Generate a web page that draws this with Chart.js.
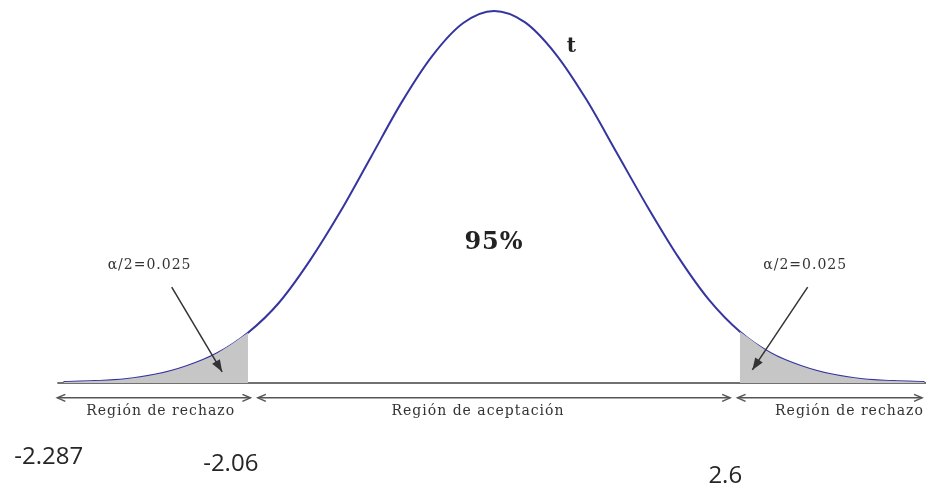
<!DOCTYPE html>
<html>
<head>
<meta charset="utf-8">
<script src="https://cdn.jsdelivr.net/npm/chart.js@4"></script>
<style>
  body { margin: 0; background: #fff; }
  #wrap { width: 926px; height: 490px; position: relative; }
</style>
</head>
<body>
<div id="wrap"><canvas id="myChart"></canvas></div>
<script>
// t values and curve height
const tValues = [-3.5, -3.25, -3, -2.75, -2.5, -2.25, -2, -1.75, -1.5, -1.25, -1, -0.75, -0.5, -0.25, 0,
                 0.25, 0.5, 0.75, 1, 1.25, 1.5, 1.75, 2, 2.25, 2.5, 2.75, 3, 3.25, 3.5];
const density = [0.001, 0.002, 0.004, 0.009, 0.018, 0.032, 0.054, 0.086, 0.131, 0.184, 0.243, 0.302, 0.352, 0.387, 0.4,
                 0.388, 0.354, 0.305, 0.247, 0.189, 0.135, 0.089, 0.055, 0.032, 0.018, 0.009, 0.004, 0.002, 0.001];
const criticalLeft = -2.0;
const criticalRight = 2.0;

const regionLabels = ['Región de rechazo', 'Región de aceptación', 'Región de rechazo'];
const alphaLabels = ['α/2=0.025', 'α/2=0.025'];
const centerLabel = '95%';
const curveLabel = 't';
const bottomLabels = ['-2.287', '-2.06', '2.6'];

// where the annotations sit, in t units (x) and density units (y)
const regionSpans = [[-3.55, -1.98], [-1.92, 1.92], [1.98, 3.48]];
const regionTextX = [-2.71, -0.13, 2.89];
const alphaTextX = [-2.80, 2.53];
const alphaArrows = [[-2.62, 0.103, -2.21, 0.012], [2.55, 0.103, 2.10, 0.014]];
const bottomLabelPos = [[-3.62, -0.080], [-2.14, -0.087], [1.88, -0.100]];

function pts(lo, hi) {
  const out = [];
  tValues.forEach((t, i) => {
    if (t >= lo && t <= hi) out.push({x: t, y: density[i]});
  });
  return out;
}

function arrowHead(ctx, x1, y1, x2, y2, len, wid, filled) {
  const a = Math.atan2(y2 - y1, x2 - x1);
  ctx.beginPath();
  ctx.moveTo(x2 - len * Math.cos(a) + wid * Math.sin(a), y2 - len * Math.sin(a) - wid * Math.cos(a));
  ctx.lineTo(x2, y2);
  ctx.lineTo(x2 - len * Math.cos(a) - wid * Math.sin(a), y2 - len * Math.sin(a) + wid * Math.cos(a));
  if (filled) { ctx.closePath(); ctx.fill(); } else ctx.stroke();
}

const decor = {
  id: 'decor',
  beforeDatasetsDraw(chart) {
    const {ctx, scales: {x, y}} = chart;
    ctx.save();
    ctx.strokeStyle = '#707070';
    ctx.lineWidth = 2;
    ctx.beginPath();
    ctx.moveTo(x.getPixelForValue(-3.55), y.getPixelForValue(0));
    ctx.lineTo(x.getPixelForValue(3.52), y.getPixelForValue(0));
    ctx.stroke();
    ctx.restore();
  },
  afterDatasetsDraw(chart) {
    const {ctx, scales: {x, y}} = chart;
    ctx.save();
    // region arrows
    const ay = y.getPixelForValue(-0.016);
    ctx.strokeStyle = '#555';
    ctx.lineWidth = 1.5;
    regionSpans.forEach(([a, b]) => {
      const xa = x.getPixelForValue(a), xb = x.getPixelForValue(b);
      ctx.beginPath();
      ctx.moveTo(xa, ay);
      ctx.lineTo(xb, ay);
      ctx.stroke();
      arrowHead(ctx, xb, ay, xa, ay, 8, 3.5, false);
      arrowHead(ctx, xa, ay, xb, ay, 8, 3.5, false);
    });
    ctx.fillStyle = '#333';
    ctx.textAlign = 'center';
    ctx.textBaseline = 'middle';
    ctx.font = '14px "DejaVu Serif"';
    ctx.letterSpacing = '1px';
    regionLabels.forEach((txt, i) => {
      ctx.fillText(txt, x.getPixelForValue(regionTextX[i]), y.getPixelForValue(-0.030));
    });
    alphaLabels.forEach((txt, i) => {
      ctx.fillText(txt, x.getPixelForValue(alphaTextX[i]), y.getPixelForValue(0.126));
    });
    ctx.letterSpacing = '0px';
    // alpha arrows
    ctx.strokeStyle = '#333';
    ctx.fillStyle = '#333';
    ctx.lineWidth = 1.5;
    alphaArrows.forEach(([t1, d1, t2, d2]) => {
      const x1 = x.getPixelForValue(t1), y1 = y.getPixelForValue(d1);
      const x2 = x.getPixelForValue(t2), y2 = y.getPixelForValue(d2);
      ctx.beginPath();
      ctx.moveTo(x1, y1);
      ctx.lineTo(x2, y2);
      ctx.stroke();
      arrowHead(ctx, x1, y1, x2, y2, 12, 4.5, true);
    });
    // center and curve labels
    ctx.fillStyle = '#222';
    ctx.font = 'bold 24px "DejaVu Serif"';
    ctx.letterSpacing = '1px';
    ctx.fillText(centerLabel, x.getPixelForValue(0), y.getPixelForValue(0.151));
    ctx.letterSpacing = '0px';
    ctx.font = 'bold 20px "DejaVu Serif"';
    ctx.fillText(curveLabel, x.getPixelForValue(0.63), y.getPixelForValue(0.361));
    // bottom numbers
    ctx.font = '24px "Open Sans"';
    ctx.fillStyle = '#262626';
    bottomLabels.forEach((txt, i) => {
      const [t, d] = bottomLabelPos[i];
      ctx.fillText(txt, x.getPixelForValue(t), y.getPixelForValue(d));
    });
    ctx.restore();
  }
};

const ctx = document.getElementById('myChart');
new Chart(ctx, {
  type: 'scatter',
  data: {
    datasets: [
      {
        data: pts(-4, criticalLeft),
        showLine: true,
        fill: 'origin',
        backgroundColor: '#c6c6c6',
        borderWidth: 0,
        pointRadius: 0,
        cubicInterpolationMode: 'monotone'
      },
      {
        data: pts(criticalRight, 4),
        showLine: true,
        fill: 'origin',
        backgroundColor: '#c6c6c6',
        borderWidth: 0,
        pointRadius: 0,
        cubicInterpolationMode: 'monotone'
      },
      {
        data: pts(-4, 4),
        showLine: true,
        borderColor: '#3535a0',
        borderWidth: 2,
        pointRadius: 0,
        cubicInterpolationMode: 'monotone',
        clip: false
      }
    ]
  },
  options: {
    responsive: true,
    maintainAspectRatio: false,
    animation: false,
    layout: { padding: 0 },
    plugins: { legend: { display: false }, tooltip: { enabled: false } },
    scales: {
      x: { type: 'linear', min: -4.016, max: 3.512, display: false },
      y: { min: -0.1151, max: 0.4118, display: false }
    }
  },
  plugins: [decor]
});
</script>
</body>
</html>
